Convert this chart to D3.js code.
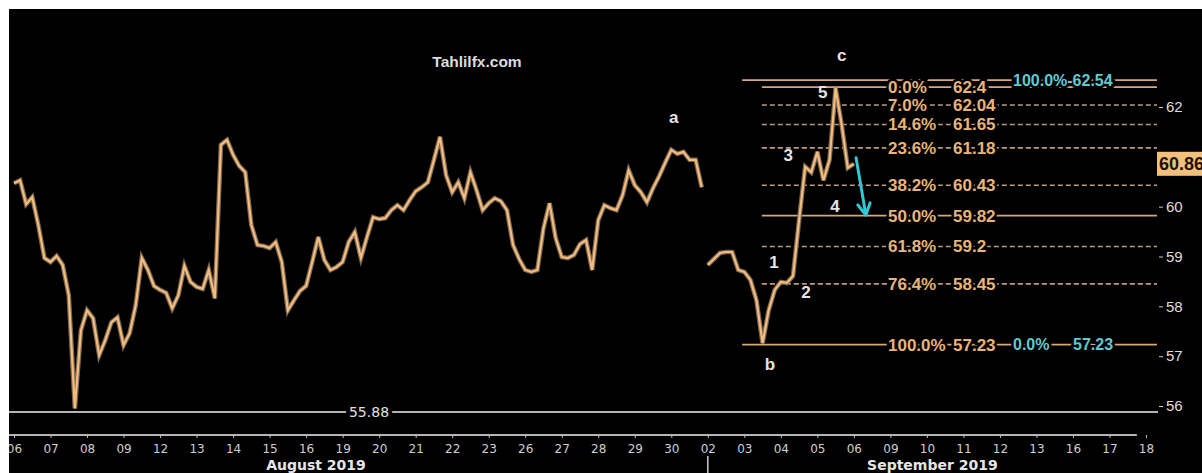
<!DOCTYPE html>
<html>
<head>
<meta charset="utf-8">
<script src="https://d3js.org/d3.v7.min.js"></script>
<style>
body { margin: 0; background: #fff; }
svg { display: block; font-family: "Liberation Sans", Arial, sans-serif; }
.xaxis text { font-family: "DejaVu Sans", sans-serif; font-size: 12px; fill: #cfcfcf; }
.xaxis line { stroke: #bdbdbd; }
.yaxis text { font-family: "Liberation Sans", Arial, sans-serif; font-size: 15px; fill: #dedede; }
.yaxis line { stroke: #cfcfcf; }
.month { font-family: "DejaVu Sans", sans-serif; font-weight: bold; font-size: 14px; fill: #e6e6e6; }
.fib-label { font-weight: bold; font-size: 17px; fill: #e8b479; paint-order: stroke; stroke: #000; stroke-width: 5px; }
.ext-label { font-weight: bold; font-size: 16px; fill: #62c9d1; paint-order: stroke; stroke: #000; stroke-width: 5px; }
.wave { font-weight: bold; font-size: 17px; fill: #e4e4e4; }
</style>
</head>
<body>
<svg id="chart" width="1202" height="473"></svg>
<script>
// trading days shown on the axis
const dayLabels = ["06","07","08","09","12","13","14","15","16","19","20","21","22","23","26","27","28","29","30",
                   "02","03","04","05","06","09","10","11","12","13","16","17","18"];
const monthNames = ["August 2019", "September 2019"];
const monthCenters = [8.27, 25.15];   // in trading-day units
const monthSplit = 19;                // 02 Sep

// price, sampled 6 times per trading day
const augStart = 0;
const augPrices = [
  60.47, 60.53, 60.05, 60.19, 59.63, 58.97, 58.89, 59.01, 58.83, 58.22,
  55.95, 57.52, 57.92, 57.76, 57.02, 57.32, 57.68, 57.78, 57.22, 57.46,
  58.02, 58.97, 58.73, 58.41, 58.33, 58.27, 57.96, 58.22, 58.81, 58.49,
  58.39, 58.35, 58.73, 58.16, 61.24, 61.34, 61.04, 60.82, 60.69, 59.63,
  59.23, 59.21, 59.17, 59.29, 58.89, 57.92, 58.12, 58.31, 58.41, 58.89,
  59.39, 58.93, 58.73, 58.79, 58.89, 59.29, 59.49, 58.97, 59.39, 59.79,
  59.75, 59.77, 59.93, 60.03, 59.93, 60.13, 60.31, 60.39, 60.49, 60.94,
  61.40, 60.63, 60.29, 60.49, 60.17, 60.69, 60.33, 59.93, 60.07, 60.17,
  60.11, 59.93, 59.23, 58.95, 58.73, 58.69, 58.73, 59.57, 60.07, 59.37,
  58.99, 58.97, 59.03, 59.25, 59.33, 58.73, 59.73, 60.03, 59.97, 59.93,
  60.23, 60.73, 60.43, 60.29, 60.09, 60.37, 60.61, 60.88, 61.14, 61.06,
  61.10, 60.94, 60.94, 60.39
];
const sepStart = 19;
const sepPrices = [
  58.83, 58.95, 59.07, 59.09, 59.09, 58.73, 58.69, 58.53, 58.12, 57.26,
  57.92, 58.33, 58.49, 58.47, 58.61, 59.73, 60.80, 60.69, 61.10, 60.53,
  60.94, 62.38, 61.64, 60.78, 60.86
];
const stepsPerDay = 6;
const lastPrice = 60.86;
const lowPrice = 55.88;

// fibonacci retracement of the b -> c move
const fibPcts = [0, 7, 14.6, 23.6, 38.2, 50, 61.8, 76.4, 100];
const fibPrices = [62.4, 62.04, 61.65, 61.18, 60.43, 59.82, 59.2, 58.45, 57.23];
const extPcts = [100, 0];
const extPrices = [62.54, 57.23];

// wave labels
const waveNames = ["a", "b", "c", "1", "2", "3", "4", "5"];
const waveTimes = [18.07, 20.70, 22.67, 20.81, 21.69, 21.20, 22.48, 22.15];
const wavePrices = [61.80, 56.84, 63.04, 58.89, 58.29, 61.04, 60.01, 62.30];

// projected move
const arrowTimes = [23.06, 23.33];
const arrowPrices = [60.98, 59.83];

const yTicks = [56, 57, 58, 59, 60, 61, 62];

const svg = d3.select("#chart");
const W = 1202, H = 473;
const panel = {left: 9, top: 9, right: 1158, bottom: 435};

const x = d3.scaleLinear().domain([0, 31]).range([14, 1146]);
const y = d3.scaleLinear().domain([56, 62]).range([406, 107]);

svg.append("rect").attr("x", 9).attr("y", 9).attr("width", W - 9).attr("height", H - 9).attr("fill", "#000");

const defs = svg.append("defs");
defs.append("clipPath").attr("id", "plot-clip")
  .append("rect").attr("x", panel.left).attr("y", panel.top)
  .attr("width", panel.right - panel.left).attr("height", panel.bottom - panel.top);
defs.append("clipPath").attr("id", "panel-clip")
  .append("rect").attr("x", 9).attr("y", 9).attr("width", W - 9).attr("height", H - 9);

const plot = svg.append("g").attr("clip-path", "url(#plot-clip)");

// 55.88 low line
plot.append("line")
  .attr("x1", panel.left).attr("x2", panel.right)
  .attr("y1", y(lowPrice)).attr("y2", y(lowPrice))
  .attr("stroke", "#b4b4b4").attr("stroke-width", 2);
svg.append("text").attr("class", "fib-label")
  .attr("x", 369).attr("y", y(lowPrice)).attr("dy", "0.35em")
  .attr("text-anchor", "middle")
  .style("fill", "#e0e0e0").style("font-weight", "normal").style("font-family", "DejaVu Sans").style("font-size", "14px")
  .style("stroke-width", "8px")
  .text(lowPrice.toFixed(2));

// fib lines
const fibStart = 20.48, extStart = 19.94, fibEnd = 31.3;
fibPrices.forEach((p, i) => {
  const solid = fibPcts[i] === 0 || fibPcts[i] === 50 || fibPcts[i] === 100;
  plot.append("line")
    .attr("x1", x(fibPcts[i] === 100 ? extStart : fibStart)).attr("x2", x(fibEnd))
    .attr("y1", y(p)).attr("y2", y(p))
    .attr("stroke", solid ? "#d8a87a" : "#bf9c7c")
    .attr("stroke-width", solid ? 1.8 : 1.6)
    .attr("stroke-dasharray", solid ? null : "5,3");
});
plot.append("line")
  .attr("x1", x(extStart)).attr("x2", x(fibEnd))
  .attr("y1", y(extPrices[0])).attr("y2", y(extPrices[0]))
  .attr("stroke", "#d8a87a").attr("stroke-width", 1.8);

// price line
const line = d3.line().x(d => x(d.t)).y(d => y(d.v));
const toPts = (start, arr) => arr.map((v, i) => ({t: start + i / stepsPerDay, v}));
[toPts(augStart, augPrices), toPts(sepStart, sepPrices)].forEach(pts => {
  plot.append("path").datum(pts).attr("d", line)
    .attr("fill", "none").attr("stroke", "#7c6753").attr("stroke-width", 4.6)
    .attr("stroke-linejoin", "miter");
  plot.append("path").datum(pts).attr("d", line)
    .attr("fill", "none").attr("stroke", "#f4bd7e").attr("stroke-width", 2.2)
    .attr("stroke-linejoin", "miter");
});

// fib labels
fibPrices.forEach((p, i) => {
  svg.append("text").attr("class", "fib-label")
    .attr("x", 888).attr("y", y(p)).attr("dy", "0.35em")
    .text(fibPcts[i].toFixed(1) + "%");
  svg.append("text").attr("class", "fib-label")
    .attr("x", 953).attr("y", y(p)).attr("dy", "0.35em")
    .text(p);
});
svg.append("text").attr("class", "ext-label")
  .attr("x", 1013).attr("y", y(extPrices[0])).attr("dy", "0.35em")
  .text(extPcts[0].toFixed(1) + "%-" + extPrices[0].toFixed(2));
svg.append("text").attr("class", "ext-label")
  .attr("x", 1013).attr("y", y(extPrices[1])).attr("dy", "0.35em")
  .text(extPcts[1].toFixed(1) + "%");
svg.append("text").attr("class", "ext-label")
  .attr("x", 1073).attr("y", y(extPrices[1])).attr("dy", "0.35em")
  .text(extPrices[1].toFixed(2));

// wave labels
waveNames.forEach((n, i) => {
  svg.append("text").attr("class", "wave")
    .attr("x", x(waveTimes[i])).attr("y", y(wavePrices[i])).attr("dy", "0.35em")
    .attr("text-anchor", "middle").text(n);
});

// cyan arrow
const ax1 = x(arrowTimes[0]), ay1 = y(arrowPrices[0]);
const ax2 = x(arrowTimes[1]), ay2 = y(arrowPrices[1]);
const ang = Math.atan2(ay2 - ay1, ax2 - ax1);
const wing = 13, spread = 0.5;
svg.append("path")
  .attr("d", `M${ax1},${ay1}L${ax2},${ay2}` +
    `M${ax2 - wing * Math.cos(ang - spread)},${ay2 - wing * Math.sin(ang - spread)}L${ax2},${ay2}` +
    `L${ax2 - wing * Math.cos(ang + spread)},${ay2 - wing * Math.sin(ang + spread)}`)
  .attr("fill", "none").attr("stroke", "#33c6d3").attr("stroke-width", 3)
  .attr("stroke-linecap", "round").attr("stroke-linejoin", "round");

// watermark
svg.append("text").attr("x", 477).attr("y", 62).attr("dy", "0.35em")
  .attr("text-anchor", "middle")
  .style("font-weight", "bold").style("font-size", "15.5px").style("fill", "#dcdcdc")
  .text("Tahlilfx.com");

// x axis
svg.append("line")
  .attr("x1", panel.left).attr("x2", x(30.75))
  .attr("y1", panel.bottom).attr("y2", panel.bottom)
  .attr("stroke", "#b4b4b4").attr("stroke-width", 2);
const xAxis = svg.append("g").attr("class", "xaxis")
  .attr("clip-path", "url(#panel-clip)")
  .append("g")
  .attr("transform", `translate(0,${panel.bottom})`)
  .call(d3.axisBottom(x).tickValues(d3.range(dayLabels.length))
    .tickFormat(i => dayLabels[i]).tickSize(3).tickPadding(6));
xAxis.select(".domain").remove();

monthNames.forEach((m, i) => {
  svg.append("text").attr("class", "month")
    .attr("x", x(monthCenters[i])).attr("y", 465).attr("dy", "0.35em")
    .attr("text-anchor", "middle").text(m);
});
svg.append("line")
  .attr("x1", x(monthSplit)).attr("x2", x(monthSplit))
  .attr("y1", 456).attr("y2", H)
  .attr("stroke", "#cfcfcf").attr("stroke-width", 1.5);

// y axis
const yAxis = svg.append("g").attr("class", "yaxis")
  .attr("transform", `translate(${panel.right + 1},0)`)
  .call(d3.axisRight(y).tickValues(yTicks).tickFormat(d3.format("d")).tickSize(4).tickPadding(3));
yAxis.select(".domain").remove();

// last price tag
const tag = svg.append("g");
tag.append("rect")
  .attr("x", 1157).attr("y", y(lastPrice) - 12).attr("width", 60).attr("height", 24)
  .attr("fill", "#f2c07c");
tag.append("text")
  .attr("x", 1159).attr("y", y(lastPrice)).attr("dy", "0.36em")
  .style("font-weight", "bold").style("font-size", "18px").style("fill", "#1c1408")
  .text(lastPrice.toFixed(2));
</script>
</body>
</html>
